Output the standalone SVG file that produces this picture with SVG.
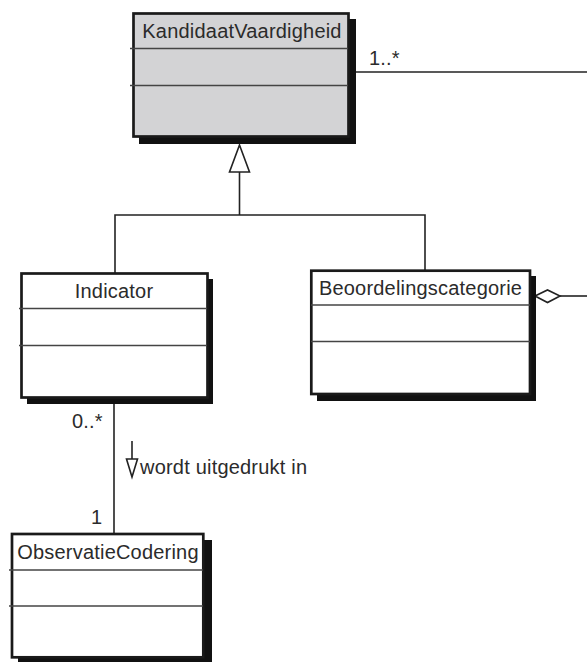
<svg xmlns="http://www.w3.org/2000/svg" width="587" height="662" viewBox="0 0 587 662">
  <style>
    .shadow { fill: #111; }
    .box { fill: #fff; stroke: #1a1a1a; stroke-width: 2.7; }
    .box.grey { fill: #d3d3d5; }
    .div { stroke: #444; stroke-width: 1.4; }
    .line { stroke: #222; stroke-width: 1.6; fill: none; }
    .head { stroke: #222; stroke-width: 1.6; fill: #fff; }
    text { font-family: "Liberation Sans", Arial, sans-serif; font-size: 20px; fill: #2b2b2b; letter-spacing: 0.2px; }
    .title { text-anchor: middle; }
  </style>
  <rect width="587" height="662" fill="#fff"/>

  <!-- connectors -->
  <g id="connectors">
    <!-- association KandidaatVaardigheid -> right -->
    <line class="line" x1="356" y1="72" x2="587" y2="72"/>
    <text x="369" y="65">1..*</text>
    <!-- generalization -->
    <polyline class="line" points="115,273 115,215 425,215 425,270"/>
    <line class="line" x1="239.5" y1="172" x2="239.5" y2="215"/>
    <polygon class="head" points="239.5,145 229.5,172 249.5,172"/>
    <!-- aggregation from Beoordelingscategorie -->
    <line class="line" x1="560" y1="296" x2="587" y2="296"/>
    <polygon class="head" points="535,296 547.5,290 560,296 547.5,302.5"/>
    <!-- Indicator - ObservatieCodering -->
    <line class="line" x1="114" y1="400" x2="114" y2="533"/>
    <text x="72" y="428">0..*</text>
    <text x="91" y="524">1</text>
    <line class="line" x1="132" y1="441" x2="132" y2="459"/>
    <polygon class="head" points="126.5,459 137.5,459 132,477"/>
    <text x="140" y="474">wordt uitgedrukt in</text>
  </g>

  <g id="KandidaatVaardigheid">
    <rect class="shadow" x="139" y="19" width="217" height="125"/>
    <rect class="box grey" x="133.5" y="13.5" width="215" height="123"/>
    <line class="div" x1="130" y1="48.5" x2="348" y2="48.5"/>
    <line class="div" x1="130" y1="85.5" x2="348" y2="85.5"/>
    <text class="title" x="242" y="38">KandidaatVaardigheid</text>
  </g>

  <g id="Indicator">
    <rect class="shadow" x="27" y="279" width="186" height="125"/>
    <rect class="box" x="21.5" y="273.5" width="186" height="124"/>
    <line class="div" x1="19" y1="308.5" x2="207" y2="308.5"/>
    <line class="div" x1="19" y1="345.5" x2="207" y2="345.5"/>
    <text class="title" x="114" y="298">Indicator</text>
  </g>

  <g id="Beoordelingscategorie">
    <rect class="shadow" x="317" y="276" width="219" height="125"/>
    <rect class="box" x="311.3" y="270.7" width="218.7" height="123.3"/>
    <line class="div" x1="311" y1="305" x2="530" y2="305"/>
    <line class="div" x1="311" y1="341.5" x2="530" y2="341.5"/>
    <text class="title" x="420.5" y="295">Beoordelingscategorie</text>
  </g>

  <g id="ObservatieCodering">
    <rect class="shadow" x="18" y="540" width="194" height="125"/>
    <rect class="box" x="12" y="534" width="191.3" height="123.3"/>
    <line class="div" x1="9" y1="570" x2="203" y2="570"/>
    <line class="div" x1="9" y1="606" x2="203" y2="606"/>
    <text class="title" x="108" y="559">ObservatieCodering</text>
  </g>
</svg>
